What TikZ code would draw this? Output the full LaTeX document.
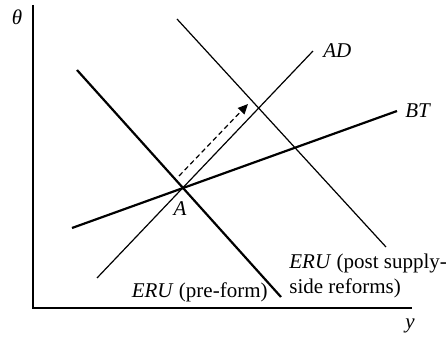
\documentclass[tikz,border=0pt]{standalone}
\usepackage{fontspec}
\setmainfont{Liberation Serif}
\usetikzlibrary{arrows.meta, positioning}

\tikzset{
    axisline/.style={line width=0.7pt},
    eruthick/.style={line width=1.1pt},
    curvethin/.style={line width=0.6pt},
    lbl/.style={inner sep=1pt, font=\fontsize{10.5}{12.5}\selectfont},
    shiftarrow/.style={line width=0.6pt, dash pattern=on 2.5pt off 1.6pt,
        -{Triangle[length=5pt, width=4.5pt]}},
}

\begin{document}
\begin{tikzpicture}[x=0.5pt, y=-0.5pt]
\useasboundingbox (0,0) rectangle (446,337);

% axes
\coordinate (ytop) at (33,5);
\coordinate (origin) at (33,308);
\coordinate (xend) at (412,308);
\draw[axisline] (ytop) -- (origin) -- (xend);
\node[lbl] (thetalbl) at (17,17) {\textit{θ}};
\node[lbl] (ylbl) at (410,326) {\textit{y}};

% curves
\coordinate (A) at (183,187);
\coordinate (erupreTop) at (77,70);
\coordinate (erupreBot) at (281,297);
\coordinate (btLeft) at (72,228);
\coordinate (btRight) at (397,111);
\coordinate (adBot) at (97,278);
\coordinate (adTop) at (313,51);
\coordinate (erupostTop) at (177,19);
\coordinate (erupostBot) at (386,247);

\draw[eruthick] (erupreTop) -- (erupreBot);
\draw[eruthick] (btLeft) -- (btRight);
\draw[curvethin] (adBot) -- (adTop);
\draw[curvethin] (erupostTop) -- (erupostBot);

% shift
\coordinate (shiftStart) at (179,176);
\coordinate (shiftEnd) at (248,104);
\draw[shiftarrow] (shiftStart) -- (shiftEnd);

% labels
\node[lbl, right=4pt of adTop] (adlbl) {\textit{AD}};
\node[lbl, right=3pt of btRight] (btlbl) {\textit{BT}};
\node[lbl, below=6pt of A, xshift=-1.5pt] (albl) {\textit{A}};
\node[lbl, anchor=east] (erupre) at (270,292) {\textit{ERU} (pre-form)};
\node[lbl, anchor=west, align=left] (erupost) at (287,276)
    {\textit{ERU} (post supply-\\side reforms)};
\end{tikzpicture}
\end{document}
